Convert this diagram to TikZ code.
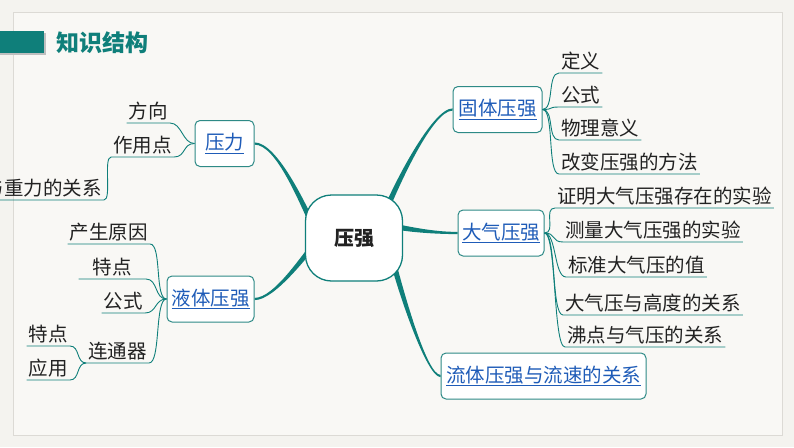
\documentclass[tikz,border=0pt]{standalone}
\usepackage{fontspec}
\setmainfont{Noto Sans CJK SC}
\usetikzlibrary{calc}
\definecolor{bgout}{HTML}{F4F3EF}
\definecolor{bgin}{HTML}{F9F8F5}
\definecolor{framec}{HTML}{DCDAD5}
\definecolor{tealc}{HTML}{0F7F7A}
\definecolor{boxc}{HTML}{2E8A86}
\definecolor{lnk}{HTML}{1F5CB8}
\definecolor{txt}{HTML}{222222}
\pgfdeclarelayer{bg}
\pgfsetlayers{bg,main}
\newcommand\taperline[6]{\fill[tealc] ($#1+#5$) .. controls ($#1+#2+#5$) and ($#4+#3+#6$) .. ($#4+#6$) -- ($#4-#6$) .. controls ($#4+#3-#6$) and ($#1+#2-#5$) .. ($#1-#5$) -- cycle;}
\tikzset{
  mainbox/.style={draw=tealc, line width=1.3pt, fill=white, rounded corners=26pt, minimum width=97pt, minimum height=86pt, font=\bfseries\fontsize{20}{20}\selectfont, text=txt},
  branch/.style={draw=boxc, line width=1pt, fill=white, rounded corners=5pt, minimum height=46pt, inner xsep=4pt, font=\fontsize{19.5}{19.5}\selectfont, text=lnk},
  leaf/.style={font=\fontsize{19.5}{19.5}\selectfont, text=txt, inner xsep=2pt, inner ysep=3pt},
  sub/.style={draw=tealc, line width=0.9pt}
}
\begin{document}
\begin{tikzpicture}[x=1pt,y=-1pt]
\useasboundingbox (0,0) rectangle (794,447);
\clip (0,0) rectangle (794,447);
% title
\fill[black!25] (0,33) rectangle (46,55);
\fill[tealc] (0,31) rectangle (44,53);
\node[anchor=west, text=tealc, font=\bfseries\fontsize{23}{23}\selectfont, inner sep=0pt] (title) at (56,43) {知识结构};
% center and branches
\node[mainbox] (c) at (354,238) {压强};
\node[branch, minimum width=59pt] (yl) at (224.5,143.5) {\underline{压力}};
\node[branch, minimum width=87pt] (yt) at (210.5,299) {\underline{液体压强}};
\node[branch, minimum width=89pt] (gt) at (497.5,109.5) {\underline{固体压强}};
\node[branch, minimum width=86pt] (dq) at (501,233) {\underline{大气压强}};
\node[branch, minimum width=205pt] (lt) at (543.5,376) {\underline{流体压强与流速的关系}};
\coordinate (a1) at (316,232);
\coordinate (a2) at (318,240);
\coordinate (a3) at (384,215);
\coordinate (a4) at (392,226);
\coordinate (a5) at (390,250);
\begin{pgfonlayer}{bg}
\fill[bgout] (0,0) rectangle (794,447);
\fill[bgin,draw=framec,line width=1pt] (13.5,12.5) rectangle (782,435.5);
\fill[black!25] (0,33) rectangle (46,55);
\fill[tealc] (0,31) rectangle (44,53);
\taperline{(yl.east)}{(22,0)}{(-14,-30)}{(a1)}{(0,-1.1)}{(2.5,-1.2)}
\taperline{(yt.east)}{(20,0)}{(-14,16)}{(a2)}{(0,-1.1)}{(-2.1,-1.85)}
\taperline{(gt.west)}{(-20,0)}{(12,-30)}{(a3)}{(0,1.1)}{(2.6,1.0)}
\taperline{(dq.west)}{(-25,0)}{(15,3)}{(a4)}{(0,1.1)}{(-0.55,2.75)}
\taperline{(lt.west)}{(-14,0)}{(10,40)}{(a5)}{(0,1.1)}{(-2.7,0.7)}
\end{pgfonlayer}
% solid pressure leaves
\node[leaf, anchor=south west] (g1) at (559,73) {定义};
\node[leaf, anchor=south west] (g2) at (559,107) {公式};
\node[leaf, anchor=south west] (g3) at (559,140) {物理意义};
\node[leaf, anchor=south west] (g4) at (559,174) {改变压强的方法};
% atmospheric leaves
\node[leaf, anchor=south west] (d1) at (555,208) {证明大气压强存在的实验};
\node[leaf, anchor=south west] (d2) at (563,242) {测量大气压强的实验};
\node[leaf, anchor=south west] (d3) at (566,277) {标准大气压的值};
\node[leaf, anchor=south west] (d4) at (563,315) {大气压与高度的关系};
\node[leaf, anchor=south west] (d5) at (565,347) {沸点与气压的关系};
% pressure force leaves
\node[leaf, anchor=south east] (y1) at (170,123) {方向};
\node[leaf, anchor=south east] (y2) at (174,157) {作用点};
\node[leaf, anchor=south east] (y3) at (104,200) {与重力的关系};
% liquid leaves
\node[leaf, anchor=south east] (l1) at (150,244) {产生原因};
\node[leaf, anchor=south east, minimum width=67pt] (l2) at (146,279) {特点};
\node[leaf, anchor=south east] (l3) at (145,313) {公式};
\node[leaf, anchor=south east] (l4) at (149,363) {连通器};
\node[leaf, anchor=south east] (l5) at (70,346) {特点};
\node[leaf, anchor=south east] (l6) at (70,380) {应用};
% leaf connectors
\foreach \n in {g1,g2,g3,g4}
  \draw[sub] (gt.east) .. controls +(12,0) and +(-12,0) .. (\n.south west) -- (\n.south east);
\foreach \n in {d1,d2,d3,d4,d5}
  \draw[sub] (dq.east) .. controls +(12,0) and +(-12,0) .. (\n.south west) -- (\n.south east);
\foreach \n in {y1,y2}
  \draw[sub] (yl.west) .. controls +(-12,0) and +(12,0) .. (\n.south east) -- (\n.south west);
\draw[sub] (y2.south west) .. controls +(-8,0) and +(8,0) .. (y3.south east) -- (y3.south west);
\foreach \n in {l1,l2,l3,l4}
  \draw[sub] (yt.west) .. controls +(-12,0) and +(12,0) .. (\n.south east) -- (\n.south west);
\foreach \n in {l5,l6}
  \draw[sub] (l4.south west) .. controls +(-10,0) and +(10,0) .. (\n.south east) -- (\n.south west);
\end{tikzpicture}
\end{document}
